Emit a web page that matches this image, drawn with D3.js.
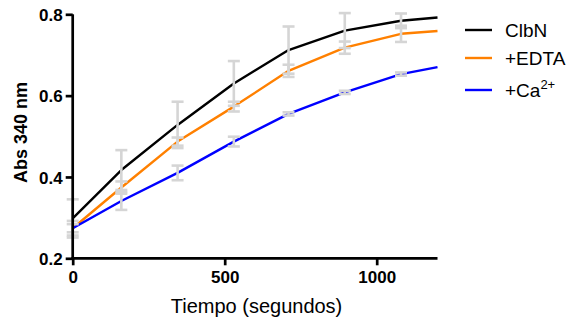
<!DOCTYPE html>
<html>
<head>
<meta charset="utf-8">
<script src="https://cdn.jsdelivr.net/npm/d3@7/dist/d3.min.js"></script>
<style>
  html, body { margin: 0; padding: 0; background: #fff; }
  svg { display: block; font-family: "Liberation Sans", Arial, Helvetica, sans-serif; }
</style>
</head>
<body>
<svg id="chart" width="571" height="322"></svg>
<script>
// Time points (seconds)
const times = [0, 160, 345, 530, 710, 895, 1080, 1200];

// Absorbance at 340 nm, mean per time point
const clbn = [0.298, 0.417, 0.528, 0.630, 0.712, 0.760, 0.784, 0.792];
const edta = [0.274, 0.374, 0.487, 0.573, 0.661, 0.718, 0.752, 0.759];
const calcium = [0.274, 0.341, 0.410, 0.487, 0.555, 0.608, 0.653, 0.670];

// Error (± half-range); null = no error bar
const clbnErr = [0.047, 0.049, 0.057, 0.055, 0.058, 0.043, 0.018, null];
const edtaErr = [0.018, 0.015, 0.010, 0.012, 0.015, 0.015, 0.020, null];
const calciumErr = [0.010, 0.022, 0.018, 0.012, 0.004, 0.004, 0.004, null];

const yTicks = [0.2, 0.4, 0.6, 0.8];
const xTicks = [0, 500, 1000];

const seriesNames = ["ClbN", "+EDTA", "+Ca"];
const seriesColors = ["#000000", "#ff8000", "#0000ff"];

const svg = d3.select("#chart");

const x = d3.scaleLinear().domain([0, 1200]).range([72.7, 437.5]);
const y = d3.scaleLinear().domain([0.2, 0.8]).range([258.3, 14.3]);

const series = [
  { name: seriesNames[0], color: seriesColors[0], values: clbn, err: clbnErr },
  { name: seriesNames[1], color: seriesColors[1], values: edta, err: edtaErr },
  { name: seriesNames[2], color: seriesColors[2], values: calcium, err: calciumErr }
];

const line = d3.line()
  .x(d => x(d.t))
  .y(d => y(d.v));

const plot = svg.append("g");

// Data lines
series.forEach(s => {
  const pts = times.map((t, i) => ({ t, v: s.values[i] }));
  plot.append("path")
    .datum(pts)
    .attr("fill", "none")
    .attr("stroke", s.color)
    .attr("stroke-width", 2.4)
    .attr("stroke-linejoin", "round")
    .attr("d", line);
});

// Error bars (light grey, drawn over the lines)
const eb = svg.append("g")
  .attr("stroke", "#d5d5d5")
  .attr("stroke-width", 2.6)
  .attr("fill", "none");
const capHalf = 6;
series.forEach(s => {
  times.forEach((t, i) => {
    const e = s.err[i];
    if (e == null) return;
    const cx = x(t);
    const y1 = y(s.values[i] + e), y0 = y(s.values[i] - e);
    eb.append("line").attr("x1", cx).attr("x2", cx).attr("y1", y1).attr("y2", y0);
    eb.append("line").attr("x1", cx - capHalf).attr("x2", cx + capHalf).attr("y1", y1).attr("y2", y1);
    eb.append("line").attr("x1", cx - capHalf).attr("x2", cx + capHalf).attr("y1", y0).attr("y2", y0);
  });
});

// Axes
const yAxis = d3.axisLeft(y).tickValues(yTicks).tickFormat(d3.format(".1f")).tickSize(7).tickPadding(3).tickSizeOuter(0);
const xAxis = d3.axisBottom(x).tickValues(xTicks).tickFormat(d3.format("d")).tickSize(7).tickPadding(4).tickSizeOuter(0);

const gy = svg.append("g").attr("transform", `translate(${x(0)},0)`).call(yAxis);
const gx = svg.append("g").attr("transform", `translate(0,${y(0.2)})`).call(xAxis);

[gx, gy].forEach(g => {
  g.select(".domain").attr("stroke", "#000").attr("stroke-width", 2.7);
  g.selectAll(".tick line").attr("stroke", "#000").attr("stroke-width", 2.7);
  g.selectAll(".tick text")
    .attr("fill", "#000")
    .style("font-family", "'Liberation Sans', Arial, sans-serif")
    .style("font-weight", "bold")
    .style("font-size", "17px");
});
// Extend axis lines so the corner closes
gy.select(".domain").attr("d", `M0,${y(0.8)}V${y(0.2) + 1.3}`);
gx.select(".domain").attr("d", `M${x(0) - 1.3},0H${x(1200)}`);
gy.selectAll(".tick text").attr("dy", "0.36em");
gx.selectAll(".tick text").attr("dy", "0.82em");

// Axis titles
svg.append("text")
  .attr("transform", `translate(27,132.5) rotate(-90)`)
  .attr("text-anchor", "middle")
  .style("font-weight", "bold")
  .style("font-size", "18px")
  .text("Abs 340 nm");

svg.append("text")
  .attr("x", 256.5)
  .attr("y", 313)
  .attr("text-anchor", "middle")
  .style("font-size", "20px")
  .text("Tiempo (segundos)");

// Legend
const legendY = [30, 58, 90];
const legend = svg.append("g");
series.forEach((s, i) => {
  legend.append("line")
    .attr("x1", 465).attr("x2", 492)
    .attr("y1", legendY[i]).attr("y2", legendY[i])
    .attr("stroke", s.color)
    .attr("stroke-width", 2.4);
  const t = legend.append("text")
    .attr("x", 505)
    .attr("y", legendY[i] + 7)
    .style("font-size", "19px")
    .text(s.name);
  if (i === 2) {
    t.append("tspan")
      .attr("dy", -8)
      .style("font-size", "13px")
      .text("2+");
  }
});
</script>
</body>
</html>
